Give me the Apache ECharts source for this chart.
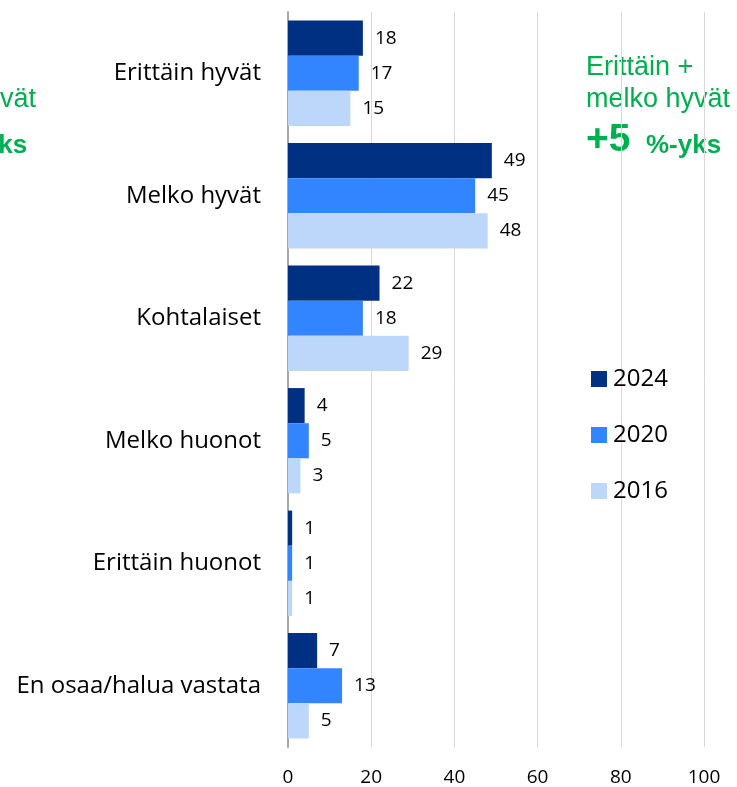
<!DOCTYPE html>
<html>
<head>
<meta charset="utf-8">
<script src="https://cdn.jsdelivr.net/npm/echarts@6/dist/echarts.min.js"></script>
<style>
  html, body { margin: 0; padding: 0; background: #fff; }
  #chart-container { width: 737px; height: 787px; }
</style>
</head>
<body>
<div id="chart-container"></div>
<script>
// vastausvaihtoehdot ylhäältä alas
var categories = ['Erittäin hyvät', 'Melko hyvät', 'Kohtalaiset', 'Melko huonot', 'Erittäin huonot', 'En osaa/halua vastata'];
var years = ['2024', '2020', '2016'];
var values2024 = [18, 49, 22, 4, 1, 7];
var values2020 = [17, 45, 18, 5, 1, 13];
var values2016 = [15, 48, 29, 3, 1, 5];
var xTicks = [0, 20, 40, 60, 80, 100];

var colors = ['#003082', '#3385FF', '#BDD7FB'];
var green = '#00B050';
var txtFont = 'Open Sans';
var greenFont = '"Liberation Sans", Arial';

var seriesData = [values2024, values2020, values2016];
var series = [];
for (var i = 0; i < years.length; i++) {
    series.push({
        type: 'bar',
        name: years[i],
        data: seriesData[i],
        barGap: '0%',
        barCategoryGap: '14%',
        itemStyle: { color: colors[i] },
        label: {
            show: true,
            position: 'right',
            distance: 12,
            color: '#000',
            fontFamily: txtFont,
            fontSize: 19
        }
    });
}

// vihreä kommentti "Erittäin + melko hyvät +5 %-yks", dx siirtää koko tekstiä
function greenNote(dx) {
    return [
        { type: 'text', x: 586 + dx, y: 68,
          style: { text: 'Erittäin +', fill: green, font: '27px ' + greenFont, verticalAlign: 'middle' } },
        { type: 'text', x: 586 + dx, y: 100,
          style: { text: 'melko hyvät', fill: green, font: '27px ' + greenFont, verticalAlign: 'middle' } },
        { type: 'text', x: 586 + dx, y: 140,
          style: { text: '+5', fill: green, font: 'bold 39px ' + greenFont, verticalAlign: 'middle' } },
        { type: 'text', x: 646 + dx, y: 146,
          style: { text: '%-yks', fill: green, font: 'bold 26px ' + greenFont, verticalAlign: 'middle' } }
    ];
}

var option = {
    animation: false,
    color: colors,
    grid: {
        left: 288,
        right: 33,
        top: 12,
        bottom: 40
    },
    legend: {
        orient: 'vertical',
        left: 591,
        top: 367,
        padding: 0,
        itemWidth: 16,
        itemHeight: 16,
        itemGap: 32,
        icon: 'rect',
        textStyle: { fontFamily: txtFont, fontSize: 24, color: '#000', padding: [0, 0, 0, 1] },
        data: years
    },
    xAxis: {
        type: 'value',
        min: xTicks[0],
        max: xTicks[xTicks.length - 1],
        interval: 20,
        axisLine: { show: false },
        axisTick: { show: false },
        axisLabel: { fontFamily: txtFont, fontSize: 19, color: '#000', margin: 21 },
        splitLine: { lineStyle: { color: '#D9D9D9', width: 1 } }
    },
    yAxis: {
        type: 'category',
        inverse: true,
        data: categories,
        axisLine: { show: true, lineStyle: { color: '#A6A6A6', width: 2 } },
        axisTick: { show: false },
        axisLabel: { fontFamily: txtFont, fontSize: 24, color: '#000', margin: 27 }
    },
    // sama kommentti näkyy myös vasemmassa reunassa lähes kokonaan rajattuna
    graphic: greenNote(0).concat(greenNote(-694)),
    series: series
};

var myChart = echarts.init(document.getElementById('chart-container'));
myChart.setOption(option);
</script>
</body>
</html>
